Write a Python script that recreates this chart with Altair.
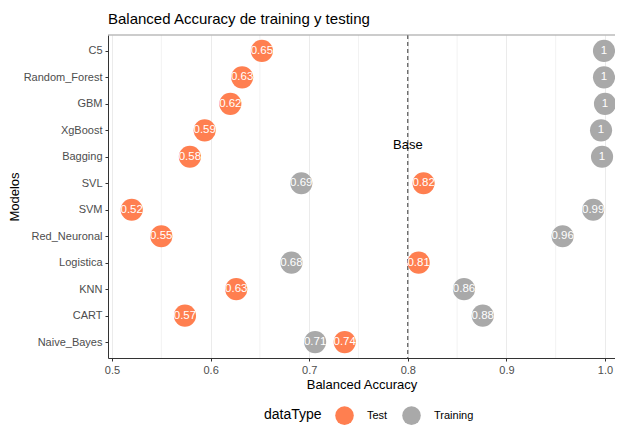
import altair as alt
import pandas as pd

models = ["C5", "Random_Forest", "GBM", "XgBoost", "Bagging", "SVL", "SVM",
          "Red_Neuronal", "Logistica", "KNN", "CART", "Naive_Bayes"]
test_vals = [0.652, 0.632, 0.620, 0.594, 0.579, 0.816, 0.520, 0.550, 0.811, 0.626, 0.574, 0.736]
train_vals = [0.999, 0.999, 1.0, 0.996, 0.997, 0.692, 0.988, 0.957, 0.682, 0.857, 0.876, 0.706]
minor_grid = [0.55, 0.65, 0.75, 0.85, 0.95]
major_ticks = [0.5, 0.6, 0.7, 0.8, 0.9, 1.0]
base_value = 0.8

rows = []
for m, t, tr in zip(models, test_vals, train_vals):
    rows.append({"Modelos": m, "value": t, "dataType": "Test"})
    rows.append({"Modelos": m, "value": tr, "dataType": "Training"})
df = pd.DataFrame(rows)

FONT = "Liberation Sans"
PL, PT = 100, 27
W, H = 507, 323
TOTAL_W, TOTAL_H = 607, 417
PPU = 986.0  # pixels per unit on x
x0 = 0.5 - 4 / PPU
xscale = alt.Scale(domain=[x0, x0 + W / PPU], nice=False, zero=False)
yscale = alt.Scale(domain=models, padding=0.6)

x_enc = alt.X("value:Q", scale=xscale,
              axis=alt.Axis(values=major_ticks, format=".1f", title="Balanced Accuracy",
                            gridColor="#EBEBEB", domainColor="#333333", tickColor="#333333",
                            tickSize=3, labelColor="#4D4D4D", labelFontSize=11,
                            titleFontSize=13, titleColor="#000000", titleFontWeight="normal",
                            titlePadding=3, labelPadding=3, labelFlush=False))
y_enc = alt.Y("Modelos:N", scale=yscale, sort=models,
              axis=alt.Axis(title="Modelos", gridColor="#EBEBEB", domainColor="#333333",
                            tickColor="#333333", tickSize=3, labelColor="#4D4D4D",
                            labelFontSize=11, titleFontSize=13, titleColor="#000000",
                            titleFontWeight="normal", titlePadding=2, labelPadding=3))

minor = alt.Chart(pd.DataFrame({"g": minor_grid})).mark_rule(
    color="#F2F2F2", strokeWidth=1
).encode(x=alt.X("g:Q", scale=xscale))

base = alt.Chart(pd.DataFrame({"b": [base_value]})).mark_rule(
    color="#333333", strokeDash=[4, 3], strokeWidth=1
).encode(x=alt.X("b:Q", scale=xscale))

base_txt = alt.Chart(pd.DataFrame({"b": [base_value], "t": ["Base"]})).mark_text(
    fontSize=13, font=FONT, color="#000000"
).encode(x=alt.X("b:Q", scale=xscale), y=alt.value(110), text="t:N")

points = alt.Chart(df).mark_circle(size=490, opacity=1).encode(
    x=x_enc, y=y_enc,
    color=alt.Color("dataType:N",
                    scale=alt.Scale(domain=["Test", "Training"], range=["#FF7F50", "#A9A9A9"]),
                    legend=alt.Legend(orient="none", legendX=156, legendY=371,
                                      direction="horizontal", titleOrient="left",
                                      title="dataType", titleFontSize=14, titleFontWeight="normal",
                                      titleColor="#000000", labelFontSize=11, labelColor="#000000",
                                      symbolType="circle", symbolSize=346, symbolOpacity=1,
                                      symbolStrokeWidth=0, labelOffset=13, columnPadding=14,
                                      titlePadding=13, labelFont=FONT, titleFont=FONT,
                                      titleBaseline="middle"))
)

labels = alt.Chart(df).mark_text(fontSize=11.5, font=FONT, color="white").encode(
    x=alt.X("value:Q", scale=xscale), y=alt.Y("Modelos:N", scale=yscale, sort=models),
    text=alt.Text("value:Q", format=".2~f")
)

top_border = alt.Chart(pd.DataFrame({"a": [0]})).mark_rule(color="#999999", strokeWidth=1).encode(
    x=alt.value(0), x2=alt.value(W), y=alt.value(0)
)

chart = alt.layer(minor, base, points, labels, base_txt, top_border).properties(
    width=W, height=H,
    autosize=alt.AutoSizeParams(type="none"),
    padding={"left": PL, "top": PT, "right": TOTAL_W - PL - W, "bottom": TOTAL_H - PT - H},
    title=alt.Title("Balanced Accuracy de training y testing", anchor="start", frame="group",
                    fontSize=15, fontWeight="normal", font=FONT, color="#000000", offset=8)
).configure_view(stroke=None).configure_axis(labelFont=FONT, titleFont=FONT)

chart.save("out.html", embed_options={"renderer": "svg", "actions": False})
